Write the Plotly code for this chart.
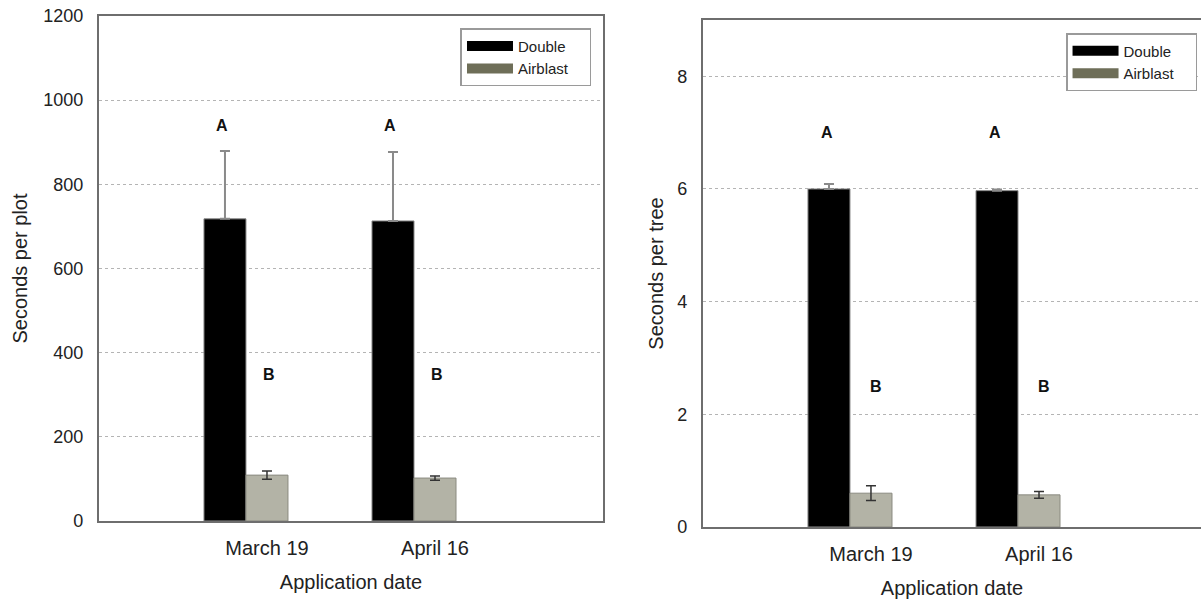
import plotly.graph_objects as go

# ---- data ----
dates = ["March 19", "April 16"]
date_pos = [1, 2]
series = ["Double", "Airblast"]

plot_double = [718, 713]
plot_double_err = [161, 164]
plot_airblast = [109, 102]
plot_airblast_err = [10, 5]

tree_double = [6.00, 5.97]
tree_double_err = [0.09, 0.02]
tree_airblast = [0.60, 0.57]
tree_airblast_err = [0.13, 0.06]

letters_double = ["A", "A"]
letters_airblast = ["B", "B"]
plot_letter_y = [941, 349]   # A, B heights (seconds per plot)
tree_letter_y = [7.0, 2.5]   # A, B heights (seconds per tree)

FONT = "Liberation Sans, Arial, sans-serif"
DOUBLE_COL = "#000000"
AIR_COL = "#b3b3a6"
AIR_LEG = "#6e6e58"
BAR_W = 0.25
PAD = "\u00a0" * 4

fig = go.Figure()

def add_panel(xa, ya, dbl, dbl_err, air, air_err, legend):
    fig.add_trace(go.Bar(
        x=date_pos, y=dbl, width=BAR_W, offset=-0.375,
        marker=dict(color=DOUBLE_COL, line=dict(color="#888888", width=1)),
        error_y=dict(type="data", array=dbl_err, symmetric=False, arrayminus=[0, 0],
                     color="#8a8a8a", thickness=2, width=5),
        xaxis=xa, yaxis=ya, name=series[0], showlegend=False))
    fig.add_trace(go.Bar(
        x=date_pos, y=air, width=BAR_W, offset=-0.125,
        marker=dict(color=AIR_COL, line=dict(color="#8a8a80", width=1)),
        error_y=dict(type="data", array=air_err, color="#333333", thickness=1.5, width=5),
        xaxis=xa, yaxis=ya, name=series[1], showlegend=False))
    # legend-only entries (wide rectangular swatches as in the reference)
    for name, col in ((series[0], DOUBLE_COL), (series[1], AIR_LEG)):
        fig.add_trace(go.Scatter(
            x=[None], y=[None], mode="lines", line=dict(color=col, width=11),
            xaxis=xa, yaxis=ya, name=name + PAD, legend=legend, showlegend=True))

add_panel("x", "y", plot_double, plot_double_err, plot_airblast, plot_airblast_err, "legend")
add_panel("x2", "y2", tree_double, tree_double_err, tree_airblast, tree_airblast_err, "legend2")

LFONT = dict(size=16, color="#111", family="Liberation Sans, Arial, sans-serif", weight="bold")
annotations = []
for i, p in enumerate(date_pos):
    annotations.append(dict(x=p - 0.27, y=plot_letter_y[0], xref="x", yref="y",
                            text=letters_double[i], showarrow=False, font=LFONT))
    annotations.append(dict(x=p + 0.01, y=plot_letter_y[1], xref="x", yref="y",
                            text=letters_airblast[i], showarrow=False, font=LFONT))
    annotations.append(dict(x=p - 0.26, y=tree_letter_y[0], xref="x2", yref="y2",
                            text=letters_double[i], showarrow=False, font=LFONT))
    annotations.append(dict(x=p + 0.03, y=tree_letter_y[1], xref="x2", yref="y2",
                            text=letters_airblast[i], showarrow=False, font=LFONT))

axis_common = dict(showline=True, linecolor="#6e6e6e", linewidth=2, mirror=True,
                   ticks="", zeroline=False, color="#222", automargin=False)
grid = dict(showgrid=True, gridcolor="#b4b4b4", griddash="dot", gridwidth=1)

fig.update_layout(
    width=1201, height=600,
    margin=dict(l=0, r=0, t=0, b=0, autoexpand=False),
    paper_bgcolor="white", plot_bgcolor="white",
    barmode="overlay",
    font=dict(family=FONT, color="#222"),
    annotations=annotations,
    xaxis=dict(domain=[0.0824, 0.5021], range=[0, 3], tickvals=date_pos, ticktext=dates,
               showgrid=False, tickfont=dict(size=20), ticklabelstandoff=8,
               title=dict(text="Application date", font=dict(size=20), standoff=17),
               anchor="y", **axis_common),
    yaxis=dict(domain=[0.1317, 0.9733], range=[0, 1200], tickvals=[0, 200, 400, 600, 800, 1000, 1200],
               tickfont=dict(size=18), ticklabelstandoff=10,
               title=dict(text="Seconds per plot", font=dict(size=20), standoff=10),
               anchor="x", **grid, **axis_common),
    xaxis2=dict(domain=[0.5853, 1.0], range=[0, 2.964], tickvals=date_pos, ticktext=dates,
                showgrid=False, tickfont=dict(size=20), ticklabelstandoff=8,
                title=dict(text="Application date", font=dict(size=20), standoff=17),
                anchor="y2", **axis_common),
    yaxis2=dict(domain=[0.1217, 0.9667], range=[0, 9], tickvals=[0, 2, 4, 6, 8],
                tickfont=dict(size=18), ticklabelstandoff=10,
                title=dict(text="Seconds per tree", font=dict(size=20), standoff=8),
                anchor="x2", **grid, **axis_common),
    legend=dict(x=0.4925, y=0.953, xanchor="right", yanchor="top",
                bgcolor="white", bordercolor="#9a9a9a", borderwidth=1.5,
                font=dict(size=15, color="#222"), traceorder="normal",
                itemwidth=46, tracegroupgap=0),
    legend2=dict(x=0.9967, y=0.945, xanchor="right", yanchor="top",
                 bgcolor="white", bordercolor="#9a9a9a", borderwidth=1.5,
                 font=dict(size=15, color="#222"), traceorder="normal",
                 itemwidth=46, tracegroupgap=0),
)

fig.write_html("out.html")
